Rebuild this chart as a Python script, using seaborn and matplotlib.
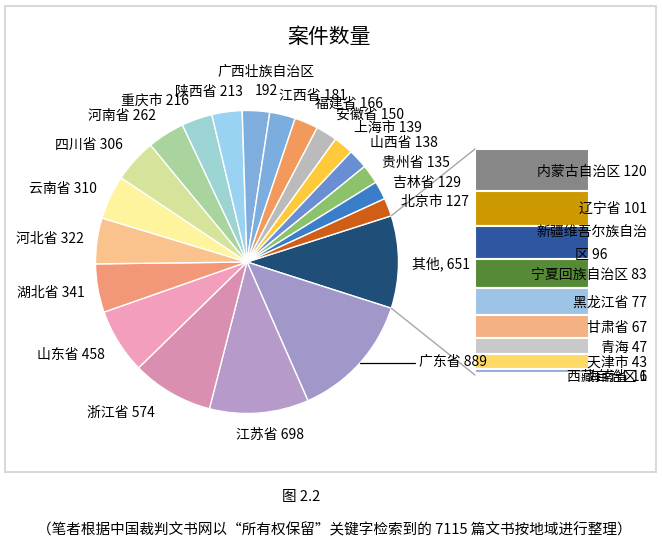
import numpy as np
import matplotlib
matplotlib.use("Agg")
import matplotlib.pyplot as plt
import seaborn as sns
from matplotlib.patches import Rectangle, ConnectionPatch
from matplotlib.lines import Line2D

# ---------------- data ----------------
main_labels = ["其他", "广东省", "江苏省", "浙江省", "山东省", "湖北省", "河北省",
               "云南省", "四川省", "河南省", "重庆市", "陕西省", "广西壮族自治区",
               "江西省", "福建省", "安徽省", "上海市", "山西省", "贵州省", "吉林省", "北京市"]
main_values = [651, 889, 698, 574, 458, 341, 322, 310, 306, 262, 216, 213, 192,
               181, 166, 150, 139, 138, 135, 129, 127]
main_colors = ["#1F4E79", "#A197C9", "#B69AC9", "#DB8FB0", "#F49EBE", "#F39779",
               "#FAC38D", "#FEF49E", "#D6E39A", "#A9D49D", "#9CD4D3", "#9AD3F2",
               "#7FAEDE", "#7BADDF", "#F19A5B", "#BBBBBB", "#FFCA3A", "#6A8ED4",
               "#8DC26D", "#3A7DC8", "#D05E16"]

other_labels = ["内蒙古自治区", "辽宁省", "新疆维吾尔族自治区", "宁夏回族自治区", "黑龙江省",
                "甘肃省", "青海", "天津市", "海南省", "西藏自治区"]
other_values = [120, 101, 96, 83, 77, 67, 47, 43, 11, 6]
other_colors = ["#878787", "#CC9A00", "#2F57A1", "#568A37", "#9DC3E6",
                "#F4B183", "#C9C9C9", "#FFD966", "#8FAADC", "#A9D18E"]

title = "案件数量"
caption1 = "图 2.2"
caption2 = "（笔者根据中国裁判文书网以“所有权保留”关键字检索到的 7115 篇文书按地域进行整理）"

# ---------------- layout (pixel positions of labels, top-left origin) ----------------
W, H = 662, 551
main_label_pos = {
    "其他": (441, 264), "广东省": (453, 362), "江苏省": (270, 435), "浙江省": (121, 413),
    "山东省": (71, 355), "湖北省": (51, 293), "河北省": (50, 239), "云南省": (63, 189),
    "四川省": (89, 145), "河南省": (122, 116), "重庆市": (155, 101), "陕西省": (209, 92),
    "广西壮族自治区": (266, 81), "江西省": (313, 96), "福建省": (349, 104),
    "安徽省": (370, 115), "上海市": (388, 128), "山西省": (404, 143), "贵州省": (416, 163),
    "吉林省": (427, 183), "北京市": (435, 202),
}
other_label_y = {
    "内蒙古自治区": 172, "辽宁省": 209, "新疆维吾尔族自治区": 244, "宁夏回族自治区": 275,
    "黑龙江省": 303, "甘肃省": 328, "青海": 348, "天津市": 363, "海南省": 377, "西藏自治区": 377,
}

sns.set_theme(style="white")
plt.rcParams["font.family"] = ["Noto Sans CJK SC", "DejaVu Sans"]

fig = plt.figure(figsize=(W / 100, H / 100), dpi=100)
fig.patch.set_facecolor("white")


def fx(x):
    return x / W


def fy(y):
    return 1 - y / H


# chart frame
fig.patches.append(Rectangle((fx(5), fy(472)), 651 / W, 466 / H, transform=fig.transFigure,
                             fill=False, ec="#D9D9D9", lw=1.5, zorder=0))

# ---------------- pie ----------------
cx, cy, r = 247, 262, 151.5
ax_pie = fig.add_axes([fx(cx - r), fy(cy + r), 2 * r / W, 2 * r / H])
total = sum(main_values)
other_deg = main_values[0] / total * 360
start = other_deg / 2
wedges, _ = ax_pie.pie(main_values, colors=main_colors, startangle=start, counterclock=False,
                       radius=1, wedgeprops=dict(edgecolor="white", linewidth=1.0))
ax_pie.set_xlim(-1, 1)
ax_pie.set_ylim(-1, 1)
ax_pie.set_aspect("auto")
ax_pie.axis("off")

# ---------------- stacked bar ----------------
bx0, bx1, by0, by1 = 475, 589, 149, 375
ax_bar = fig.add_axes([fx(bx0), fy(by1), (bx1 - bx0) / W, (by1 - by0) / H])
bottom = 0
for v, c in zip(other_values, other_colors):
    ax_bar.bar(0, v, bottom=bottom, width=1.0, color=c, edgecolor="white", linewidth=1.5)
    bottom += v
ax_bar.set_xlim(-0.5, 0.5)
ax_bar.set_ylim(sum(other_values), 0)
ax_bar.axis("off")

# connector lines
a_top = np.deg2rad(start)
a_bot = np.deg2rad(start - other_deg)
for ang, yb in [(a_top, 0), (a_bot, sum(other_values))]:
    cp = ConnectionPatch(xyA=(np.cos(ang), np.sin(ang)), coordsA=ax_pie.transData,
                         xyB=(-0.5, yb), coordsB=ax_bar.transData,
                         color="#A6A6A6", lw=1.0, zorder=5)
    fig.add_artist(cp)

# leader line for 广东省
cum = 0
angles = []
for v in main_values:
    mid = start - (cum + v / 2) / total * 360
    angles.append(mid)
    cum += v
gd = np.deg2rad(angles[1])
ax_pie.add_line(Line2D([np.cos(gd), 1.11], [np.sin(gd), np.sin(gd)], color="black",
                       lw=0.9, clip_on=False))

# ---------------- labels ----------------
fs = 10
for lab, v in zip(main_labels, main_values):
    x, y = main_label_pos[lab]
    if lab == "其他":
        s = f"{lab}, {v}"
    elif lab == "广西壮族自治区":
        s = f"{lab}\n{v}"
    else:
        s = f"{lab} {v}"
    fig.text(fx(x), fy(y), s, ha="center", va="center", fontsize=fs, color="#000000",
             multialignment="center", linespacing=1.5, zorder=6)

for lab, v in zip(other_labels, other_values):
    y = other_label_y[lab]
    ls = 1.45
    if lab == "新疆维吾尔族自治区":
        s = f"新疆维吾尔族自治\n区 {v}"
        ls = 1.75
    else:
        s = f"{lab} {v}"
    fig.text(fx(647), fy(y), s, ha="right", va="center", fontsize=fs, color="#000000",
             multialignment="center", linespacing=ls, zorder=6)

fig.text(fx(329), fy(37), title, ha="center", va="center", fontsize=15, color="#000000")
fig.text(fx(301), fy(497), caption1, ha="center", va="center", fontsize=10.5, color="#000000")
fig.text(fx(334), fy(530), caption2, ha="center", va="center", fontsize=10.5, color="#000000")

fig.savefig("out.png", dpi=100, facecolor="white")
